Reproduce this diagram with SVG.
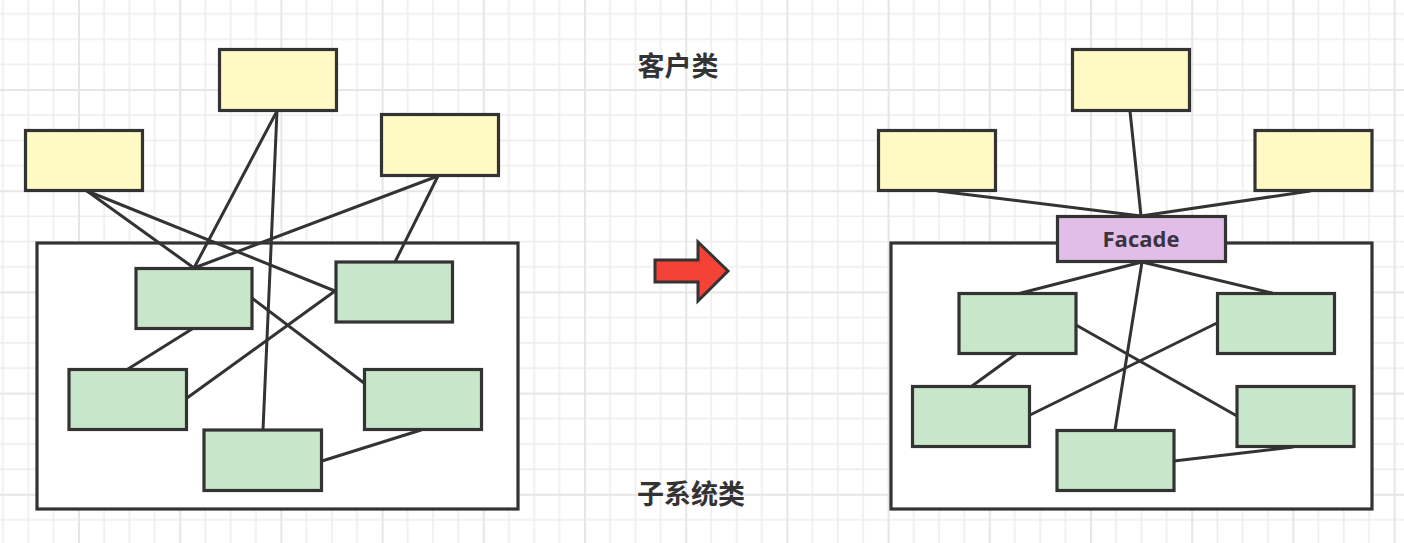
<svg xmlns="http://www.w3.org/2000/svg" width="1404" height="543" viewBox="0 0 1404 543">
<defs>
<pattern id="grid" patternUnits="userSpaceOnUse" x="78" y="89" width="101.2" height="101.2">
<rect x="0" y="0" width="101.2" height="101.2" fill="#ffffff"/>
<rect x="25.3" y="0" width="1.6" height="101.2" fill="#eeeeee"/>
<rect x="50.6" y="0" width="1.6" height="101.2" fill="#eeeeee"/>
<rect x="75.9" y="0" width="1.6" height="101.2" fill="#eeeeee"/>
<rect x="0" y="25.3" width="101.2" height="1.6" fill="#eeeeee"/>
<rect x="0" y="50.6" width="101.2" height="1.6" fill="#eeeeee"/>
<rect x="0" y="75.9" width="101.2" height="1.6" fill="#eeeeee"/>
<rect x="0" y="0" width="2" height="101.2" fill="#e6e6e6"/>
<rect x="0" y="0" width="101.2" height="2" fill="#e6e6e6"/>
</pattern>
</defs>
<style>
.box{stroke:#333333;stroke-width:3.2}
.client{fill:#fff9c4}
.sub{fill:#c8e6c9}
.facade{fill:#e1bee7}
.container{fill:#ffffff;stroke:#333333;stroke-width:3.2}
.conn line{stroke:#333333;stroke-width:3;stroke-linecap:round}
.label{font-family:"Noto Sans CJK SC","Noto Sans",sans-serif;font-weight:bold;font-size:27px;fill:#333333;text-anchor:middle}
.ftext{font-family:"Open Sans","Noto Sans",sans-serif;font-weight:bold;font-size:22px;fill:#3a3340;text-anchor:middle}
</style>
<rect x="0" y="0" width="1404" height="543" fill="url(#grid)"/>

<g id="left-subsystem-container"><rect class="container" x="37" y="243" width="481" height="266"/></g>
<g id="right-subsystem-container"><rect class="container" x="891" y="243" width="481" height="266"/></g>

<g id="connectors" class="conn">
<!-- left -->
<line x1="87" y1="191" x2="194" y2="268"/>
<line x1="87" y1="191" x2="335" y2="291"/>
<line x1="277" y1="111" x2="194" y2="268"/>
<line x1="277" y1="111" x2="263" y2="430"/>
<line x1="438" y1="176" x2="194" y2="268"/>
<line x1="438" y1="176" x2="395" y2="262"/>
<line x1="192" y1="329" x2="128" y2="369"/>
<line x1="187" y1="398" x2="335" y2="291"/>
<line x1="252" y1="298" x2="364" y2="383"/>
<line x1="322" y1="461" x2="421" y2="430"/>
<!-- right -->
<line x1="938" y1="191" x2="1141" y2="216"/>
<line x1="1130" y1="111" x2="1141" y2="216"/>
<line x1="1310" y1="191" x2="1141" y2="216"/>
<line x1="1142" y1="262" x2="1021" y2="293"/>
<line x1="1142" y1="262" x2="1272" y2="293"/>
<line x1="1142" y1="262" x2="1115" y2="430"/>
<line x1="1016" y1="354" x2="972" y2="386"/>
<line x1="1076" y1="325" x2="1237" y2="416"/>
<line x1="1030" y1="415" x2="1217" y2="323"/>
<line x1="1174" y1="461" x2="1293" y2="447"/>
</g>

<g id="left-client-top"><rect class="box client" x="219.5" y="49.5" width="117" height="61"/></g>
<g id="left-client-left"><rect class="box client" x="25.5" y="130.5" width="117" height="60"/></g>
<g id="left-client-right"><rect class="box client" x="381.5" y="114.5" width="117" height="61"/></g>

<g id="left-sub-a"><rect class="box sub" x="136" y="268.5" width="116" height="60"/></g>
<g id="left-sub-b"><rect class="box sub" x="336" y="262" width="116.5" height="60"/></g>
<g id="left-sub-c"><rect class="box sub" x="69" y="369.5" width="117.5" height="60"/></g>
<g id="left-sub-d"><rect class="box sub" x="364.5" y="369.5" width="117" height="60"/></g>
<g id="left-sub-e"><rect class="box sub" x="204" y="430" width="117.5" height="60.5"/></g>

<g id="right-client-top"><rect class="box client" x="1072.5" y="49.5" width="117" height="61"/></g>
<g id="right-client-left"><rect class="box client" x="878.5" y="130.5" width="117" height="60"/></g>
<g id="right-client-right"><rect class="box client" x="1255" y="130.5" width="117" height="60"/></g>

<g id="facade"><rect class="box facade" x="1057.5" y="216.5" width="168" height="45"/><text class="ftext" x="1141" y="247">Facade</text></g>

<g id="right-sub-a"><rect class="box sub" x="959" y="293.5" width="117" height="60"/></g>
<g id="right-sub-b"><rect class="box sub" x="1217.5" y="293.5" width="117" height="60"/></g>
<g id="right-sub-c"><rect class="box sub" x="912.5" y="386.5" width="117" height="60"/></g>
<g id="right-sub-d"><rect class="box sub" x="1237" y="386.5" width="117" height="60"/></g>
<g id="right-sub-e"><rect class="box sub" x="1057" y="430.5" width="117" height="60"/></g>

<g id="arrow"><polygon points="655,260 698,260 698,242 728,271 698,301 698,282 655,282" fill="#f44336" stroke="#333333" stroke-width="3" stroke-linejoin="miter"/></g>

<g id="label-client"><text class="label" x="678" y="76">客户类</text></g>
<g id="label-subsystem"><text class="label" x="691" y="504">子系统类</text></g>
</svg>
